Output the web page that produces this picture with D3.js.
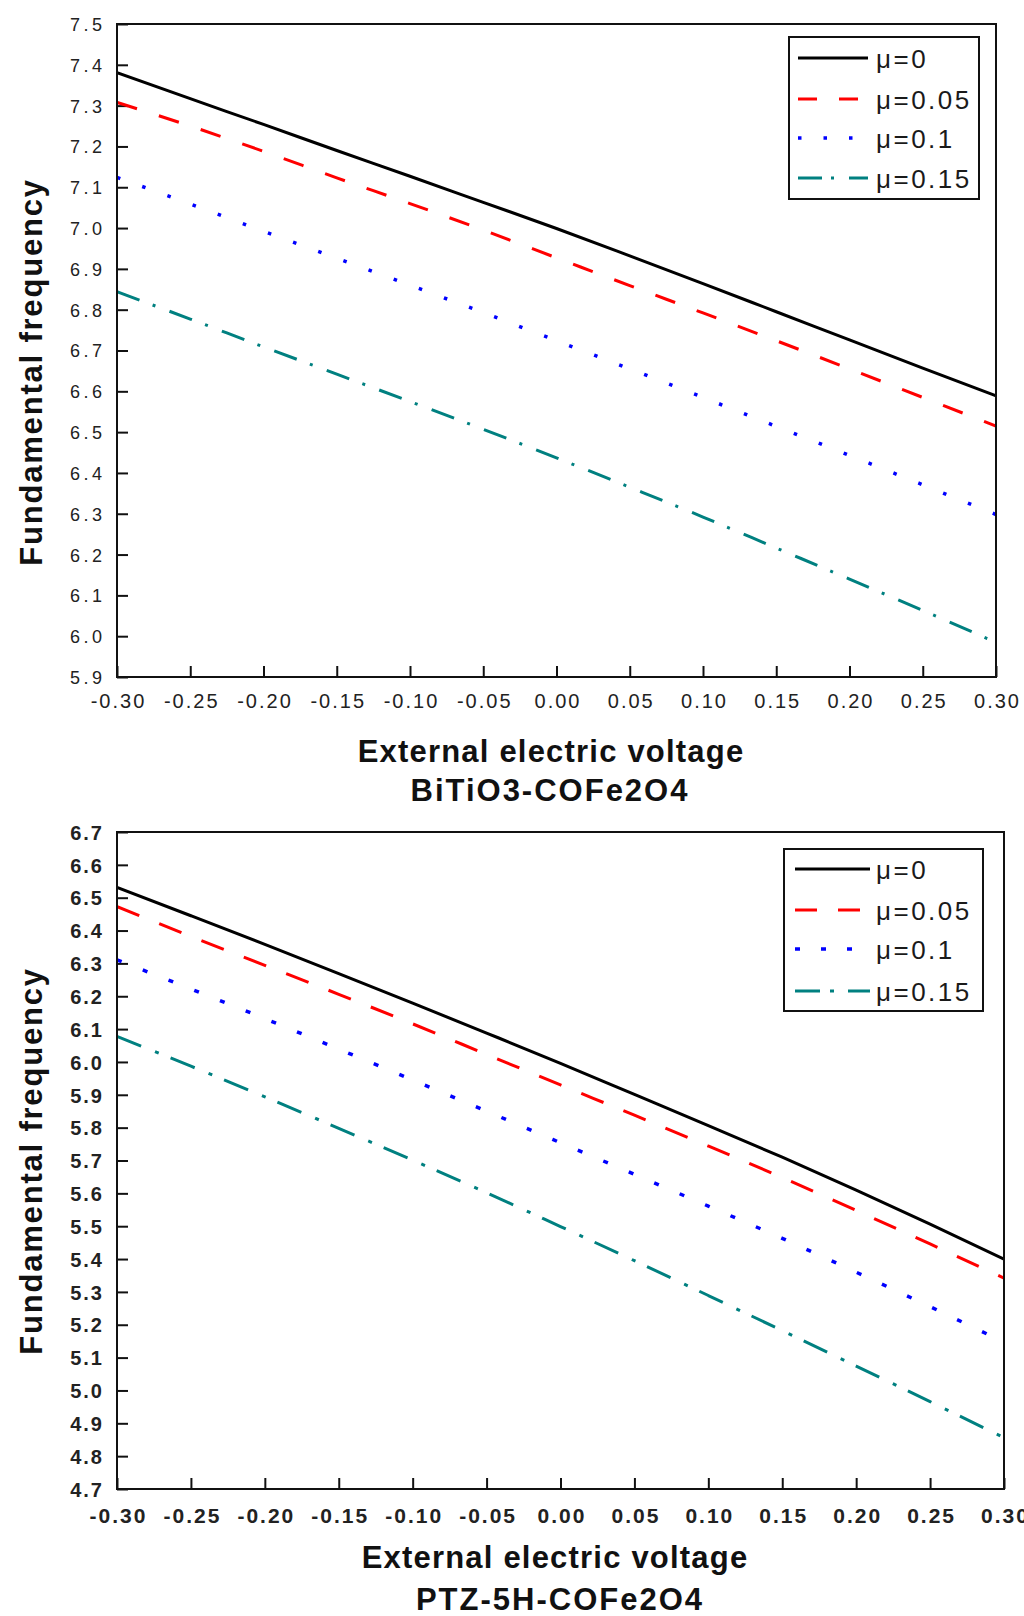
<!DOCTYPE html>
<html>
<head>
<meta charset="utf-8">
<script src="https://cdn.jsdelivr.net/npm/d3@7"></script>
<style>
  body { margin: 0; background: #fff; }
  svg text { font-family: Arial, "Liberation Sans", sans-serif; }
</style>
</head>
<body>
<svg id="fig" width="1024" height="1616"></svg>
<script>
// voltage values, shared by both panels
var voltage = [-0.30, -0.25, -0.20, -0.15, -0.10, -0.05, 0.00, 0.05, 0.10, 0.15, 0.20, 0.25, 0.30];
var muLabels = ["μ=0", "μ=0.05", "μ=0.1", "μ=0.15"];

// BiTiO3-COFe2O4
var bitMu0   = [7.381, 7.317, 7.254, 7.190, 7.127, 7.063, 6.999, 6.932, 6.864, 6.795, 6.726, 6.657, 6.589];
var bitMu005 = [7.308, 7.250, 7.188, 7.123, 7.060, 6.995, 6.927, 6.859, 6.792, 6.724, 6.655, 6.585, 6.515];
var bitMu01  = [7.124, 7.059, 6.992, 6.926, 6.860, 6.793, 6.724, 6.655, 6.585, 6.514, 6.443, 6.371, 6.298];
var bitMu015 = [6.844, 6.777, 6.709, 6.642, 6.575, 6.507, 6.437, 6.365, 6.292, 6.216, 6.140, 6.063, 5.985];

// PTZ-5H-COFe2O4
var ptzMu0   = [6.531, 6.445, 6.358, 6.269, 6.179, 6.088, 5.996, 5.901, 5.806, 5.710, 5.610, 5.506, 5.400];
var ptzMu005 = [6.473, 6.382, 6.294, 6.206, 6.116, 6.023, 5.930, 5.838, 5.744, 5.648, 5.548, 5.446, 5.342];
var ptzMu01  = [6.311, 6.222, 6.132, 6.039, 5.945, 5.850, 5.754, 5.658, 5.561, 5.463, 5.360, 5.255, 5.147];
var ptzMu015 = [6.078, 5.987, 5.894, 5.798, 5.701, 5.602, 5.499, 5.395, 5.289, 5.182, 5.074, 4.966, 4.856];

// tick values
var xTicks = [-0.30, -0.25, -0.20, -0.15, -0.10, -0.05, 0.00, 0.05, 0.10, 0.15, 0.20, 0.25, 0.30];
var xMinor = [-0.275, -0.225, -0.175, -0.125, -0.075, -0.025, 0.025, 0.075, 0.125, 0.175, 0.225, 0.275];
var bitYTicks = [5.9, 6.0, 6.1, 6.2, 6.3, 6.4, 6.5, 6.6, 6.7, 6.8, 6.9, 7.0, 7.1, 7.2, 7.3, 7.4, 7.5];
var ptzYTicks = [4.7, 4.8, 4.9, 5.0, 5.1, 5.2, 5.3, 5.4, 5.5, 5.6, 5.7, 5.8, 5.9, 6.0, 6.1, 6.2, 6.3, 6.4, 6.5, 6.6, 6.7];

var colors = ["#000000", "#ff0000", "#0000ff", "#008080"];
var widths = [3, 3, 3.5, 3];

var svg = d3.select("#fig");

function fmtX(d) {
    if (Math.abs(d) < 1e-9) d = 0;
    return d.toFixed(2);
}

function drawPanel(p) {
    var x = d3.scaleLinear().domain([-0.30, 0.30]).range([p.left, p.right]);
    var y = d3.scaleLinear().domain([p.yTicks[0], p.yTicks[p.yTicks.length - 1]]).range([p.bottom, p.top]);

    var yMinor = p.yTicks.slice(1).map(function(v) { return v - 0.05; });

    var g = svg.append("g");

    // x axis, ticks pointing inward
    var gx = g.append("g").attr("transform", "translate(0," + p.bottom + ")");
    gx.call(d3.axisBottom(x).tickValues(xMinor).tickSize(-6).tickFormat(""));
    gx.call(d3.axisBottom(x).tickValues(xTicks).tickSize(-11).tickFormat(fmtX));
    gx.selectAll(".domain").remove();
    gx.selectAll("line").attr("stroke", "#111").attr("stroke-width", 2);
    gx.selectAll("text")
        .attr("y", p.xLabelOffset)
        .attr("dy", 0)
        .attr("dx", p.xLabelSpacing / 2)
        .attr("fill", "#222")
        .style("font-size", p.xLabelSize + "px")
        .style("font-weight", p.labelWeight)
        .style("letter-spacing", p.xLabelSpacing + "px");

    // y axis
    var gy = g.append("g").attr("transform", "translate(" + p.left + ",0)");
    gy.call(d3.axisLeft(y).tickValues(yMinor).tickSize(-6).tickFormat(""));
    gy.call(d3.axisLeft(y).tickValues(p.yTicks).tickSize(-11).tickFormat(d3.format(".1f")));
    gy.selectAll(".domain").remove();
    gy.selectAll("line").attr("stroke", "#111").attr("stroke-width", 2);
    gy.selectAll("text")
        .attr("x", -15 + p.yLabelSpacing)
        .attr("dy", "0.36em")
        .attr("fill", "#222")
        .style("font-size", p.yLabelSize + "px")
        .style("font-weight", p.labelWeight)
        .style("letter-spacing", p.yLabelSpacing + "px");

    // series
    var line = d3.line()
        .curve(d3.curveMonotoneX)
        .x(function(d, i) { return x(voltage[i]); })
        .y(function(d) { return y(d); });

    var clipId = "clip" + p.id;
    svg.append("clipPath").attr("id", clipId)
        .append("rect")
        .attr("x", p.left).attr("y", p.top)
        .attr("width", p.right - p.left).attr("height", p.bottom - p.top);

    g.append("g")
        .attr("clip-path", "url(#" + clipId + ")")
        .selectAll("path")
        .data(p.series)
        .enter()
        .append("path")
        .attr("d", line)
        .attr("fill", "none")
        .attr("stroke", function(d, i) { return colors[i]; })
        .attr("stroke-width", function(d, i) { return widths[i]; })
        .attr("stroke-dasharray", function(d, i) { return p.dashes[i]; });

    // frame
    g.append("rect")
        .attr("x", p.left).attr("y", p.top)
        .attr("width", p.right - p.left).attr("height", p.bottom - p.top)
        .attr("fill", "none")
        .attr("stroke", "#111")
        .attr("stroke-width", 2);

    // legend
    var lg = g.append("g");
    lg.append("rect")
        .attr("x", p.legend.x).attr("y", p.legend.y)
        .attr("width", p.legend.w).attr("height", p.legend.h)
        .attr("fill", "#fff")
        .attr("stroke", "#111")
        .attr("stroke-width", 2);

    var rows = lg.selectAll("g.row")
        .data(muLabels)
        .enter()
        .append("g")
        .attr("class", "row")
        .attr("transform", function(d, i) { return "translate(0," + p.legend.rows[i] + ")"; });

    rows.append("line")
        .attr("x1", p.legend.lineX0).attr("x2", p.legend.lineX1)
        .attr("y1", 0).attr("y2", 0)
        .attr("stroke", function(d, i) { return colors[i]; })
        .attr("stroke-width", function(d, i) { return widths[i]; })
        .attr("stroke-dasharray", function(d, i) { return p.legendDashes[i]; });

    rows.append("text")
        .attr("x", p.legend.textX)
        .attr("y", 10)
        .attr("fill", "#1a1a1a")
        .style("font-size", "26px")
        .style("letter-spacing", "2.5px")
        .text(function(d) { return d; });

    // axis titles
    g.append("text")
        .attr("x", p.titleX).attr("y", p.titleY)
        .attr("text-anchor", "middle")
        .attr("fill", "#111")
        .style("font-size", "31px").style("font-weight", "bold").style("letter-spacing", "1.2px")
        .text("External electric voltage");

    g.append("text")
        .attr("x", p.subX).attr("y", p.subY)
        .attr("text-anchor", "middle")
        .attr("fill", "#111")
        .style("font-size", "31px").style("font-weight", "bold").style("letter-spacing", "2px")
        .text(p.name);

    g.append("text")
        .attr("transform", "translate(42," + p.yTitleCenter + ") rotate(-90)")
        .attr("text-anchor", "middle")
        .attr("fill", "#111")
        .style("font-size", "31px").style("font-weight", "bold").style("letter-spacing", "1.8px")
        .text("Fundamental frequency");
}

drawPanel({
    id: 1, left: 117, right: 996, top: 24, bottom: 677,
    yTicks: bitYTicks,
    series: [bitMu0, bitMu005, bitMu01, bitMu015],
    dashes: [null, "21,23", "3.5,23.3", "24,14,3,15"],
    legendDashes: [null, "19,22", "3.5,22", "24,9,3,15"],
    xLabelOffset: 31, xLabelSize: 20, xLabelSpacing: 2,
    yLabelSize: 18, yLabelSpacing: 3.5, labelWeight: "normal",
    legend: {x: 789, y: 37, w: 190, h: 162, lineX0: 798, lineX1: 868, textX: 876, rows: [58, 99, 138, 178]},
    titleX: 551, titleY: 762, subX: 550, subY: 801,
    yTitleCenter: 372,
    name: "BiTiO3-COFe2O4"
});

drawPanel({
    id: 2, left: 117, right: 1004, top: 832, bottom: 1489,
    yTicks: ptzYTicks,
    series: [ptzMu0, ptzMu005, ptzMu01, ptzMu015],
    dashes: [null, "24,21.5", "5,22.7", "26,15,4,12.8"],
    legendDashes: [null, "22,21", "5,21", "25,10,4,14"],
    xLabelOffset: 34, xLabelSize: 21, xLabelSpacing: 2,
    yLabelSize: 20, yLabelSpacing: 2, labelWeight: "bold",
    legend: {x: 784, y: 849, w: 199, h: 162, lineX0: 795, lineX1: 870, textX: 876, rows: [869, 910, 949, 991]},
    titleX: 555, titleY: 1568, subX: 560, subY: 1610,
    yTitleCenter: 1161,
    name: "PTZ-5H-COFe2O4"
});
</script>
</body>
</html>
